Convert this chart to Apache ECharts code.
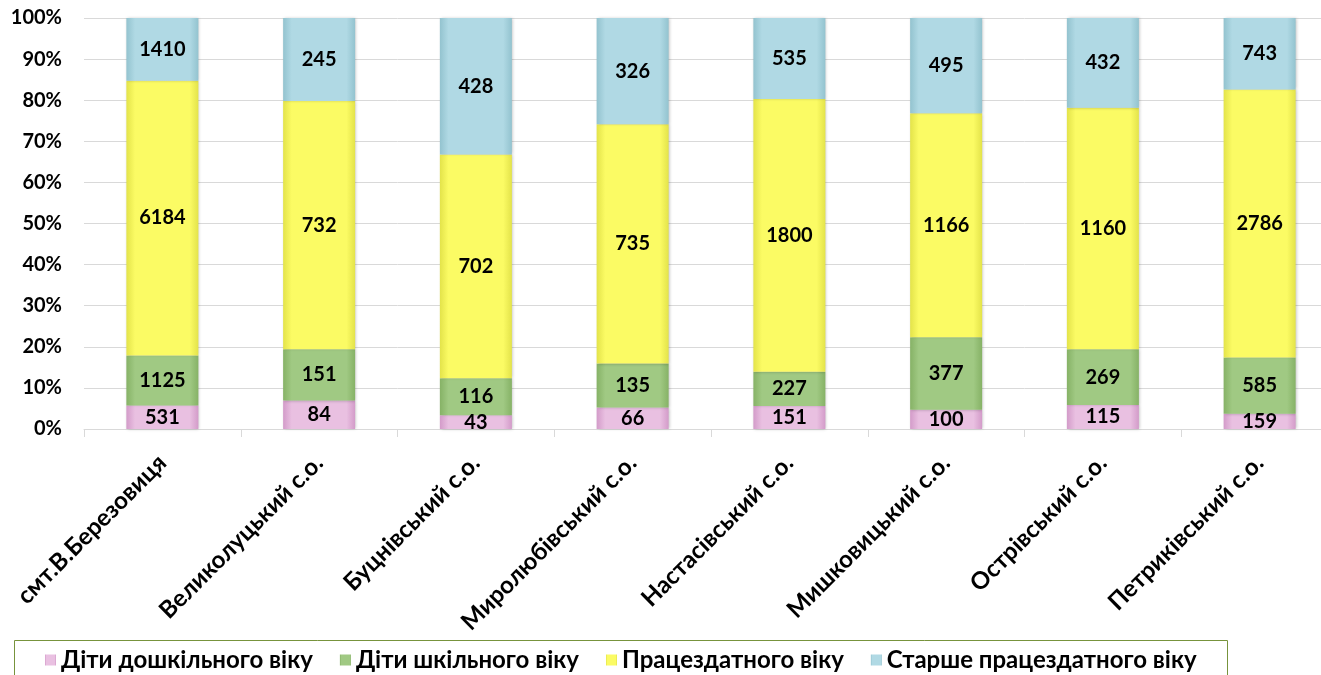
<!DOCTYPE html>
<html>
<head>
<meta charset="utf-8">
<script src="https://cdn.jsdelivr.net/npm/echarts@6/dist/echarts.min.js"></script>
<style>html,body{margin:0;padding:0;background:#fff;overflow:hidden}#c{width:1340px;height:675px}</style>
</head>
<body>
<div id="c"></div>
<script>
const categories = ['смт.В.Березовиця','Великолуцький с.о.','Буцнівський с.о.','Миролюбівський с.о.','Настасівський с.о.','Мишковицький с.о.','Острівський с.о.','Петриківський с.о.'];
const seriesNames = ['Діти дошкільного віку','Діти шкільного віку','Працездатного віку','Старше працездатного віку'];
const preschool = [531, 84, 43, 66, 151, 100, 115, 159];
const school    = [1125, 151, 116, 135, 227, 377, 269, 585];
const working   = [6184, 732, 702, 735, 1800, 1166, 1160, 2786];
const elderly   = [1410, 245, 428, 326, 535, 495, 432, 743];
const yTicks = [0,10,20,30,40,50,60,70,80,90,100];

const raw = [preschool, school, working, elderly];
const totals = categories.map((_, i) => raw.reduce((s, a) => s + a[i], 0));
const colors = [
  ['#d39bc9','#e9c0e1'],
  ['#86b266','#a0c983'],
  ['#e3e34a','#fbfb64'],
  ['#93c3cf','#b0d9e4']
];
function grad(c){
  return {type:'linear',x:0,y:0,x2:1,y2:0,colorStops:[
    {offset:0,color:c[0]},{offset:0.12,color:c[1]},{offset:0.88,color:c[1]},{offset:1,color:c[0]}]};
}
const chart = echarts.init(document.getElementById('c'));
chart.setOption({
  animation:false,
  color: colors.map(c=>c[1]),
  grid:{left:84,right:2,top:18,bottom:246,containLabel:false,outerBoundsMode:'none'},
  legend:{show:true,left:40,top:643,itemWidth:11,itemHeight:11,itemGap:27,
    icon:'rect',
    textStyle:{fontFamily:'Lato',fontWeight:'bold',fontSize:24,color:'#000'},
    data:seriesNames},
  graphic:[{type:'rect',shape:{x:14.5,y:640.5,width:1213,height:50},style:{fill:'none',stroke:'#77933c',lineWidth:1}}],
  xAxis:{type:'category',data:categories,
    axisLine:{lineStyle:{color:'#d9d9d9'}},
    axisTick:{show:true,length:8,lineStyle:{color:'#d9d9d9'}},
    axisLabel:{rotate:45,interval:0,margin:30,fontFamily:'Lato',fontWeight:'bold',fontSize:24,color:'#000'}},
  yAxis:{type:'value',min:0,max:100,interval:10,
    axisLine:{show:false},axisTick:{show:false},
    splitLine:{lineStyle:{color:'#d9d9d9'}},
    axisLabel:{formatter:v=>v+'%',margin:22,fontFamily:'Lato',fontWeight:'bold',fontSize:20,color:'#000'}},
  series: raw.map((arr, si) => ({
    name:seriesNames[si],type:'bar',stack:'s',barWidth:72,
    data:arr.map((v,i)=>+(v/totals[i]*100).toFixed(3)),
    itemStyle:{color:grad(colors[si]),shadowColor:'rgba(0,0,0,0.25)',shadowBlur:3,shadowOffsetX:1},
    label:{show:true,position:'inside',formatter:p=>raw[si][p.dataIndex],
      fontFamily:'Lato',fontWeight:'bold',fontSize:20,color:'#000'}
  }))
});
</script>
</body>
</html>
